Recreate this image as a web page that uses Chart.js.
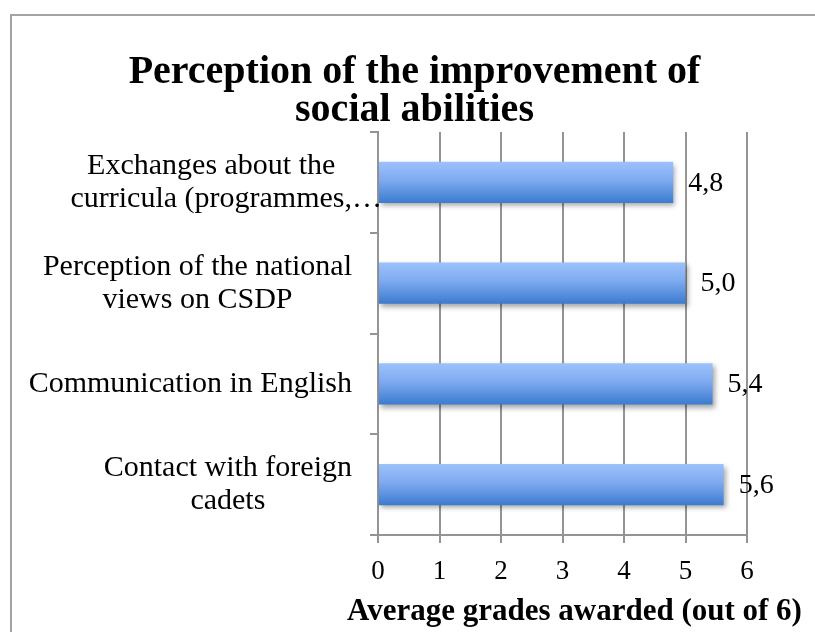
<!DOCTYPE html>
<html>
<head>
<meta charset="utf-8">
<script src="https://cdn.jsdelivr.net/npm/chart.js@4/dist/chart.umd.min.js"></script>
<style>
    html, body { margin: 0; padding: 0; background: #fff; }
    #frame {
        position: absolute; left: 10px; top: 14px;
        width: 820px; height: 700px;
        border: 2px solid #a3a3a3;
    }
    #wrap { position: absolute; left: 0; top: 0; width: 815px; height: 632px; }
</style>
</head>
<body>
<div id="frame"></div>
<div id="wrap"><canvas id="chart"></canvas></div>
<script>
// Chart data
const categories = [
    ['Exchanges about the', 'curricula (programmes,\u2026'],
    ['Perception of the national', 'views on CSDP'],
    ['Communication in English'],
    ['Contact with foreign', 'cadets']
];
const grades = [4.8, 5.0, 5.44, 5.62];
const xTicks = [0, 1, 2, 3, 4, 5, 6];
const xTitle = 'Average grades awarded (out of 6)';

const SERIF = '"Liberation Serif", "DejaVu Serif", serif';
const gridColor = '#949494';
const BAR_PCT = 0.41;

// vertical gradient per bar, light on top, darker at the bottom
function barGradient(context) {
    const chart = context.chart;
    const y = chart.scales.y;
    if (!y || context.dataIndex === undefined) return '#6f9fe6';
    const center = y.getPixelForValue(context.dataIndex);
    const half = (y.bottom - y.top) / categories.length * BAR_PCT / 2;
    if (!isFinite(center) || !isFinite(half) || half <= 0) return '#6f9fe6';
    const g = chart.ctx.createLinearGradient(0, center - half, 0, center + half);
    g.addColorStop(0, '#9cc2fb');
    g.addColorStop(0.45, '#7eaaf0');
    g.addColorStop(1, '#3b7bcf');
    return g;
}

// soft shadow under the bars
const barShadow = {
    id: 'barShadow',
    beforeDatasetsDraw(chart) {
        const ctx = chart.ctx;
        ctx.save();
        ctx.shadowColor = 'rgba(0,0,0,0.35)';
        ctx.shadowBlur = 5;
        ctx.shadowOffsetX = 2;
        ctx.shadowOffsetY = 3;
    },
    afterDatasetsDraw(chart) {
        chart.ctx.restore();
    }
};

// value labels at the end of each bar
const valueLabels = {
    id: 'valueLabels',
    afterDatasetsDraw(chart) {
        const ctx = chart.ctx;
        const meta = chart.getDatasetMeta(0);
        ctx.save();
        ctx.font = '28px ' + SERIF;
        ctx.fillStyle = '#000';
        ctx.textAlign = 'left';
        ctx.textBaseline = 'middle';
        meta.data.forEach((bar, i) => {
            const txt = grades[i].toFixed(1).replace('.', ',');
            ctx.fillText(txt, bar.x + 15, bar.y + 1);
        });
        ctx.restore();
    }
};

// category labels: each block right aligned, lines centred inside it,
// plus the x axis title which is wider than the plot area
const axisTexts = {
    id: 'axisTexts',
    afterDraw(chart) {
        const ctx = chart.ctx;
        const y = chart.scales.y;
        const x = chart.scales.x;
        const right = 352;
        const lineH = 33;
        ctx.save();
        ctx.font = '30px ' + SERIF;
        ctx.fillStyle = '#000';
        ctx.textAlign = 'left';
        ctx.textBaseline = 'middle';
        categories.forEach((lines, i) => {
            const widths = lines.map(l => ctx.measureText(l.replace('\u2026', '')).width);
            const blockW = Math.max(...widths);
            const cx = right - blockW / 2;
            const cy = y.getPixelForValue(i);
            const top = cy - (lines.length - 1) * lineH / 2;
            lines.forEach((l, j) => {
                ctx.fillText(l, cx - widths[j] / 2, top + j * lineH);
            });
        });

        ctx.font = 'bold 31px ' + SERIF;
        ctx.textAlign = 'center';
        ctx.fillText(xTitle, (x.left + x.right) / 2 + 12, x.bottom - 20);
        ctx.restore();
    }
};

const ctx = document.getElementById('chart').getContext('2d');
new Chart(ctx, {
    type: 'bar',
    data: {
        labels: categories,
        datasets: [{
            data: grades,
            backgroundColor: barGradient,
            borderWidth: 0,
            barPercentage: BAR_PCT,
            categoryPercentage: 1
        }]
    },
    options: {
        indexAxis: 'y',
        responsive: true,
        maintainAspectRatio: false,
        animation: false,
        layout: { padding: { left: 14, right: 0, top: 0, bottom: 0 } },
        plugins: {
            legend: { display: false },
            tooltip: { enabled: false },
            title: {
                display: true,
                text: ['Perception of the improvement of', 'social abilities'],
                color: '#000',
                font: { family: SERIF, size: 40, weight: 'bold', lineHeight: 0.95 },
                padding: { top: 54, bottom: 2 }
            }
        },
        scales: {
            x: {
                min: 0,
                max: 6,
                afterBuildTicks(scale) {
                    scale.ticks = xTicks.map(v => ({ value: v }));
                },
                afterFit(scale) { scale.height = 97; },
                grid: {
                    color: gridColor,
                    lineWidth: 2,
                    tickLength: 8
                },
                border: { color: gridColor, width: 2 },
                ticks: {
                    color: '#000',
                    font: { family: SERIF, size: 27 },
                    padding: 13
                }
            },
            y: {
                afterFit(scale) { scale.width = 364; },
                grid: {
                    offset: true,
                    drawOnChartArea: false,
                    color: gridColor,
                    lineWidth: 2,
                    tickLength: 8
                },
                border: { color: gridColor, width: 2 },
                ticks: { display: false }
            },
            // empty right-hand axis that only reserves the margin
            yRight: {
                type: 'linear',
                position: 'right',
                afterFit(scale) { scale.width = 68; },
                grid: { display: false },
                border: { display: false },
                ticks: { display: false }
            }
        }
    },
    plugins: [barShadow, valueLabels, axisTexts]
});
</script>
</body>
</html>
